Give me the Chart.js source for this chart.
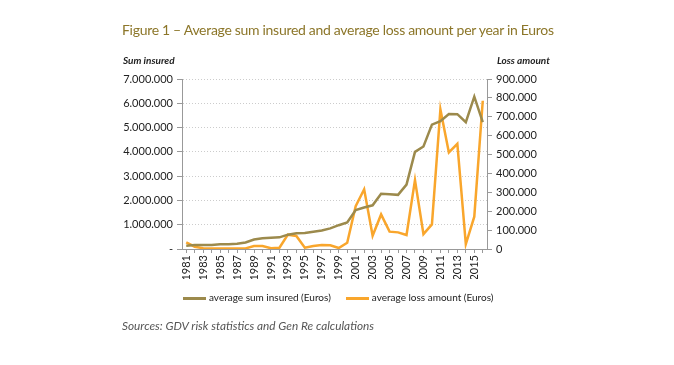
<!DOCTYPE html>
<html lang="en">
<head>
<meta charset="UTF-8">
<title>Figure 1</title>
<script src="https://cdn.jsdelivr.net/npm/chart.js"></script>
<style>
  body { margin: 0; background: #fff; font-family: Lato, "Open Sans", sans-serif; }
  #wrap { position: relative; width: 674px; height: 365px; }
  canvas { position: absolute; left: 0; top: 0; }
  .txt { position: absolute; white-space: nowrap; }
  #title { left: 122px; top: 21px; font-size: 14px; letter-spacing: -0.3px; color: #8c7629; }
  .axt { top: 54px; font-size: 10px; font-style: italic; font-weight: bold; color: #222; }
  #legend { left: 183px; top: 291px; font-size: 10px; color: #222; }
  #legend span.sw { display: inline-block; width: 23px; height: 3px; vertical-align: middle; margin-right: 3px; }
  #source { left: 122px; top: 318px; font-size: 11.8px; font-style: italic; color: #555; }
</style>
</head>
<body>
<div id="wrap">
  <canvas id="chart" width="674" height="365"></canvas>
  <div id="title" class="txt">Figure 1 – Average sum insured and average loss amount per year in Euros</div>
  <div class="txt axt" style="left:123px">Sum insured</div>
  <div class="txt axt" style="left:497px">Loss amount</div>
  <div id="legend" class="txt"><span class="sw" style="background:#9c8a4c"></span>average sum insured (Euros)<span class="sw" style="background:#f9a62c;margin-left:15px"></span>average loss amount (Euros)</div>
  <div id="source" class="txt">Sources: GDV risk statistics and Gen Re calculations</div>
</div>
<script>
// years 1981 - 2016
const years = [];
for (let y = 1981; y <= 2016; y++) years.push(String(y));

// average sum insured (Euros), left axis
const sumInsured = [
  135000, 160000, 160000, 165000, 195000, 200000, 220000, 270000, 390000, 440000,
  460000, 480000, 590000, 650000, 660000, 710000, 760000, 850000, 980000, 1090000,
  1600000, 1710000, 1800000, 2270000, 2250000, 2230000, 2650000, 4000000, 4220000, 5120000,
  5260000, 5560000, 5550000, 5220000, 6270000, 5220000
];

// average loss amount (Euros), right axis
const lossAmount = [
  35000, 12000, 4000, 2000, 2000, 2000, 2000, 3000, 16000, 16000,
  4000, 7000, 76000, 69000, 7000, 16000, 21000, 20000, 5000, 33000,
  227000, 316000, 70000, 183000, 92000, 88000, 74000, 365000, 79000, 130000,
  739000, 511000, 557000, 26000, 171000, 785000
];

function fmt(v) {
  return String(Math.round(v)).replace(/\B(?=(\d{3})+(?!\d))/g, '.');
}

const tickFont = { family: 'Lato, "Open Sans", sans-serif', size: 11 };

new Chart(document.getElementById('chart'), {
  type: 'line',
  data: {
    labels: years,
    datasets: [
      {
        label: 'average sum insured (Euros)',
        data: sumInsured,
        yAxisID: 'y',
        borderColor: '#9c8a4c',
        borderWidth: 2.5,
        pointRadius: 0,
        tension: 0
      },
      {
        label: 'average loss amount (Euros)',
        data: lossAmount,
        yAxisID: 'y1',
        borderColor: '#f9a62c',
        borderWidth: 2.5,
        pointRadius: 0,
        tension: 0
      }
    ]
  },
  options: {
    responsive: false,
    animation: false,
    layout: { padding: { left: 100, right: 107, top: 79, bottom: 86 } },
    plugins: { legend: { display: false }, tooltip: { enabled: false } },
    scales: {
      x: {
        offset: true,
        afterFit: s => { s.height = 30; },
        grid: { drawOnChartArea: false, color: '#999', tickLength: 4 },
        border: { color: '#999' },
        ticks: {
          autoSkip: false, maxRotation: 90, minRotation: 90, padding: 2,
          color: '#222', font: tickFont,
          callback: function (v, i) { return i % 2 === 0 ? this.getLabelForValue(v) : ''; }
        }
      },
      y: {
        position: 'left',
        min: 0, max: 7000000,
        afterFit: s => { s.width = 82; },
        grid: { color: '#ccc', tickColor: '#999', tickLength: 5, tickBorderDash: [] },
        border: { color: '#999', dash: [1, 2] },
        ticks: {
          stepSize: 1000000, padding: 4, color: '#222', font: tickFont,
          callback: v => v === 0 ? '-' : fmt(v)
        }
      },
      y1: {
        position: 'right',
        min: 0, max: 900000,
        afterFit: s => { s.width = 80; },
        grid: { drawOnChartArea: false, color: '#999', tickLength: 5 },
        border: { color: '#999' },
        ticks: {
          stepSize: 100000, padding: 4, color: '#222', font: tickFont,
          callback: v => fmt(v)
        }
      }
    }
  },
  plugins: [{
    // solid left axis line over the dotted grid style
    id: 'solidLeftAxis',
    afterDraw(chart) {
      const a = chart.chartArea, ctx = chart.ctx;
      ctx.save();
      ctx.strokeStyle = '#999';
      ctx.lineWidth = 1;
      ctx.beginPath();
      ctx.moveTo(a.left + 0.5, a.top);
      ctx.lineTo(a.left + 0.5, a.bottom);
      ctx.stroke();
      ctx.restore();
    }
  }]
});
</script>
</body>
</html>
